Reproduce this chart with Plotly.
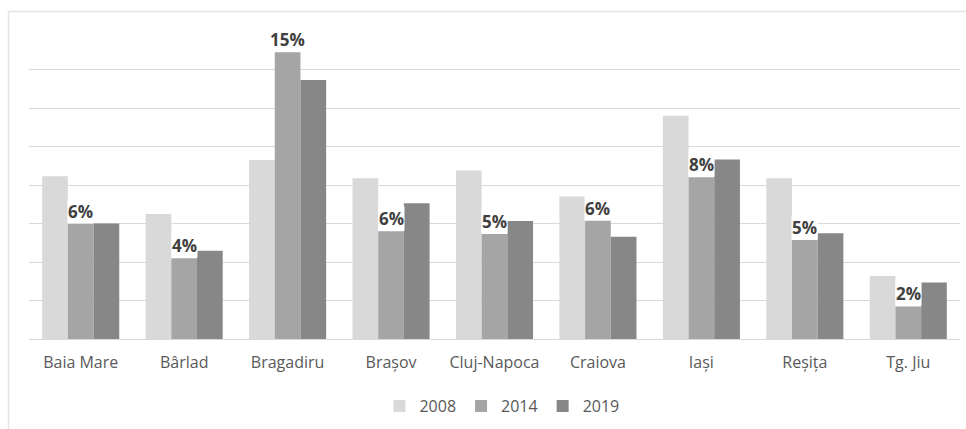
import plotly.graph_objects as go

# Cities and shares (%) for each survey year
cities = ["Baia Mare", "Bârlad", "Bragadiru", "Brașov", "Cluj-Napoca",
          "Craiova", "Iași", "Reșița", "Tg. Jiu"]
years = ["2008", "2014", "2019"]
share_2008 = [8.45, 6.5, 9.3, 8.35, 8.75, 7.4, 11.6, 8.35, 3.27]
share_2014 = [6.0, 4.2, 14.9, 5.6, 5.45, 6.15, 8.4, 5.14, 1.69]
share_2019 = [6.0, 4.58, 13.45, 7.05, 6.13, 5.31, 9.33, 5.49, 2.94]
y_ticks = [0, 2, 4, 6, 8, 10, 12, 14, 16]

series = [share_2008, share_2014, share_2019]
colors = ["#d9d9d9", "#a5a5a5", "#878787"]

W, H = 966, 429
L, R, T, B = 29, 6, 31, 90
plot_w = W - L - R
plot_h = H - T - B

fig = go.Figure()
for name, vals, col in zip(years, series, colors):
    fig.add_trace(go.Bar(
        x=cities, y=vals, name=name,
        marker=dict(color=col, line=dict(width=0)),
    ))

# Value labels above the 2014 bars (the middle bar of each group)
for city, v in zip(cities, share_2014):
    fig.add_annotation(
        x=city, y=v, xref="x", yref="y",
        text=f"{round(v)}%", showarrow=False,
        yanchor="bottom", xanchor="center",
        bgcolor="white", borderpad=0, yshift=0,
        font=dict(family="Open Sans", size=17, color="#404040", weight="bold"),
    )

# Thin frame around the chart area
fx = (8.5 - L) / plot_w
fy = (H - B - 11.5) / plot_h
fig.add_shape(type="line", xref="paper", yref="paper",
              x0=fx, x1=fx, y0=-0.5, y1=fy,
              line=dict(color="#e3e3e3", width=1.5))
fig.add_shape(type="line", xref="paper", yref="paper",
              x0=fx, x1=1.2, y0=fy, y1=fy,
              line=dict(color="#e3e3e3", width=1.5))

fig.update_layout(
    width=W, height=H,
    margin=dict(l=L, r=R, t=T, b=B),
    paper_bgcolor="white", plot_bgcolor="white",
    barmode="group", bargap=0.255, bargroupgap=0,
    font=dict(family="Open Sans", size=16, color="#595959"),
    showlegend=True,
    legend=dict(orientation="h", x=0.508, xanchor="center",
                y=(H - B - 406) / plot_h, yanchor="middle",
                font=dict(size=16, color="#595959"),
                itemwidth=30, tracegroupgap=0),
    xaxis=dict(showgrid=False, showline=True, linecolor="#d9d9d9", linewidth=1,
               ticks="", ticklabelstandoff=9,
               tickfont=dict(size=16, color="#595959")),
    yaxis=dict(range=[0, 16], tickvals=y_ticks, showticklabels=False,
               showgrid=True, gridcolor="#d9d9d9", gridwidth=1,
               zeroline=False, showline=False, ticks=""),
)

fig.write_html("out.html")
